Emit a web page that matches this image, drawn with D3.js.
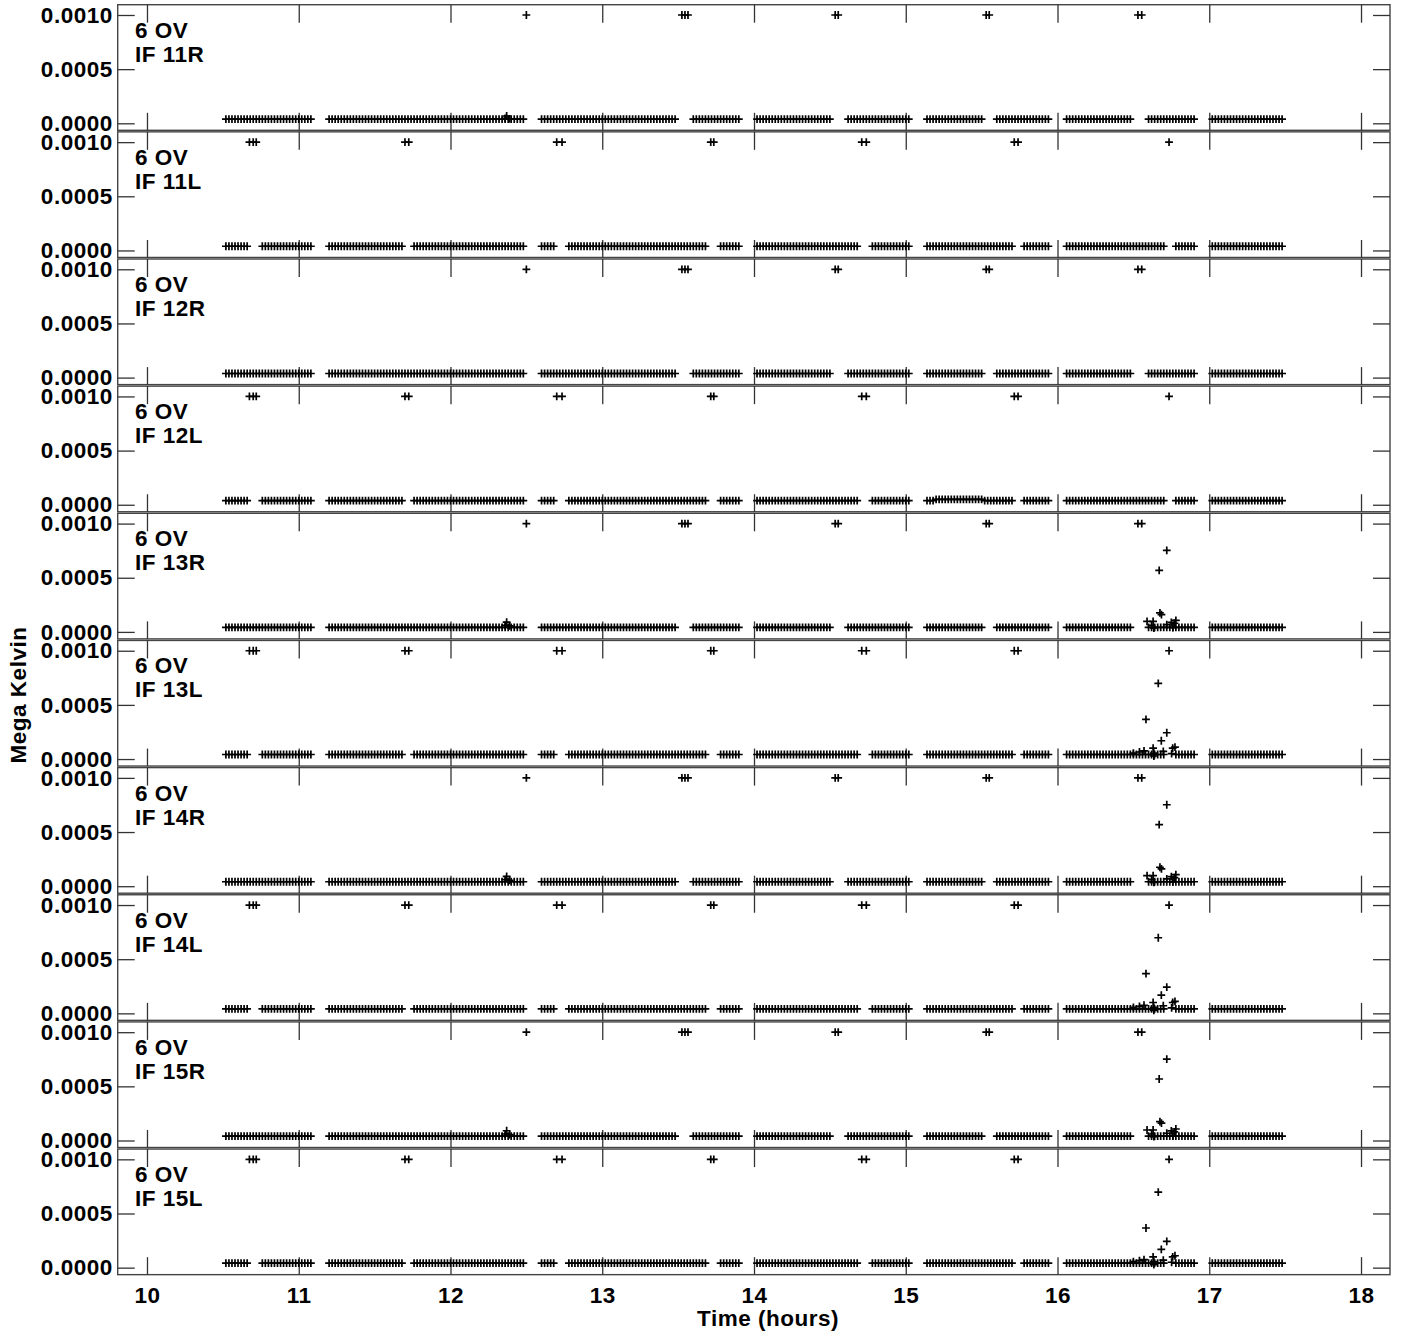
<!DOCTYPE html>
<html>
<head>
<meta charset="utf-8">
<script src="https://cdn.jsdelivr.net/npm/d3@7/dist/d3.min.js"></script>
<style>
  body { margin: 0; background: #fff; }
  text { font-family: "Liberation Sans", Arial, sans-serif; font-weight: bold; fill: #000; }
</style>
</head>
<body>
<div id="container"></div>
<script>
// panel names, top to bottom
var panelNames = ["IF 11R", "IF 11L", "IF 12R", "IF 12L", "IF 13R", "IF 13L", "IF 14R", "IF 14L", "IF 15R", "IF 15L"];
var sourceName = "6 OV";
var hourTicks = [10, 11, 12, 13, 14, 15, 16, 17, 18];
var valueTicks = [0, 0.0005, 0.0010];

// integration times (hours) shared by all IFs
var sampleTimes = [
  10.52,10.54,10.56,10.58,10.60,10.62,10.64,10.66,10.68,10.70,10.72,10.74,10.76,10.78,10.80,10.82,10.84,10.86,10.88,10.90,10.92,10.94,10.96,10.98,11.00,11.02,11.04,11.06,11.08,
  11.20,11.22,11.24,11.26,11.28,11.30,11.32,11.34,11.36,11.38,11.40,11.42,11.44,11.46,11.48,11.50,11.52,11.54,11.56,11.58,11.60,11.62,11.64,11.66,11.68,11.70,11.72,11.74,11.76,11.78,11.80,11.82,11.84,11.86,11.88,11.90,11.92,11.94,11.96,11.98,
  12.00,12.02,12.04,12.06,12.08,12.10,12.12,12.14,12.16,12.18,12.20,12.22,12.24,12.26,12.28,12.30,12.32,12.34,12.36,12.38,12.40,12.42,12.44,12.46,12.48,
  12.60,12.62,12.64,12.66,12.68,12.70,12.72,12.74,12.76,12.78,12.80,12.82,12.84,12.86,12.88,12.90,12.92,12.94,12.96,12.98,13.00,13.02,13.04,13.06,13.08,13.10,13.12,13.14,13.16,13.18,13.20,13.22,13.24,13.26,13.28,13.30,13.32,13.34,13.36,13.38,13.40,13.42,13.44,13.46,13.48,
  13.50,13.52,13.54,13.56,13.58,13.60,13.62,13.64,13.66,13.68,13.70,13.72,13.74,13.76,13.78,13.80,13.82,13.84,13.86,13.88,13.90,
  14.02,14.04,14.06,14.08,14.10,14.12,14.14,14.16,14.18,14.20,14.22,14.24,14.26,14.28,14.30,14.32,14.34,14.36,14.38,14.40,14.42,14.44,14.46,14.48,14.50,14.52,14.54,14.56,14.58,14.60,14.62,14.64,14.66,14.68,14.70,14.72,14.74,14.76,14.78,14.80,14.82,14.84,14.86,14.88,14.90,14.92,14.94,14.96,14.98,15.00,15.02,
  15.14,15.16,15.18,15.20,15.22,15.24,15.26,15.28,15.30,15.32,15.34,15.36,15.38,15.40,15.42,15.44,15.46,15.48,15.50,15.52,15.54,15.56,15.58,15.60,15.62,15.64,15.66,15.68,15.70,15.72,15.74,15.76,15.78,15.80,15.82,15.84,15.86,15.88,15.90,15.92,15.94,
  16.06,16.08,16.10,16.12,16.14,16.16,16.18,16.20,16.22,16.24,16.26,16.28,16.30,16.32,16.34,16.36,16.38,16.40,16.42,16.44,16.46,16.48,16.50,16.52,16.54,16.56,16.58,16.60,16.62,16.64,16.66,16.68,16.70,16.72,16.74,16.76,16.78,16.80,16.82,16.84,16.86,16.88,16.90,
  17.02,17.04,17.06,17.08,17.10,17.12,17.14,17.16,17.18,17.20,17.22,17.24,17.26,17.28,17.30,17.32,17.34,17.36,17.38,17.40,17.42,17.44,17.46,17.48
];

// stretches where one polarization has no baseline points
var gapsR = [[13.49, 13.59], [14.51, 14.61], [15.51, 15.59], [16.49, 16.59]];
var gapsL = [[10.67, 10.75], [11.69, 11.75], [12.69, 12.77], [13.69, 13.77], [14.69, 14.77], [15.70, 15.78], [16.71, 16.78]];

// points pinned at the top of the range
var topR = [12.50, 13.525, 13.545, 13.565, 14.535, 14.555, 15.53, 15.55, 16.53, 16.555];
var topL = [10.675, 10.70, 10.72, 11.70, 11.725, 12.70, 12.735, 13.715, 13.735, 14.71, 14.74, 15.715, 15.74, 16.735];
var topValue = 0.0010;

// baseline level per panel (Mega Kelvin)
var baseLevel = [0.000038, 0.000039, 0.000038, 0.000039, 0.000041, 0.000042, 0.000041, 0.000042, 0.000041, 0.000042];

// slightly raised stretch in IF 12L
var raised12L = [[15.20, 15.50, 0.000050]];

// small bump near 12.37 h in the R IFs
var bumpR = [[12.36, 0.000060], [12.37, 0.000090], [12.39, 0.000055]];
var bumpPanels = [0, 4, 6, 8];

// flare near 16.7 h in IF 13-15
var spikeR = [[16.59, 0.000097], [16.62, 0.000060], [16.63, 0.000097], [16.635, 0.000036], [16.67, 0.000568],
              [16.675, 0.000175], [16.685, 0.000160], [16.72, 0.000752], [16.72, 0.000067], [16.75, 0.000088],
              [16.76, 0.000040], [16.77, 0.000080], [16.78, 0.000106]];
var spikeL = [[16.50, 0.000055], [16.54, 0.000065], [16.57, 0.000075], [16.583, 0.000366], [16.63, 0.000100],
              [16.635, 0.000055], [16.635, 0.000028], [16.664, 0.000698], [16.684, 0.000169], [16.697, 0.000070],
              [16.72, 0.000243], [16.752, 0.000050], [16.759, 0.000100], [16.774, 0.000110]];
var spikePanels = [4, 5, 6, 7, 8, 9];

var W = 1401, H = 1334,
    left = 117.7, right = 1390,
    top0 = 4.7, pitch = 127.15, panelH = 125.6,
    fontSize = "22.5px", spacing = "0.5px";

var svg = d3.select("div#container").append("svg").attr("width", W).attr("height", H);

var xScale = d3.scaleLinear().domain([9.807, 18.191]).range([left, right]);
var yScale = d3.scaleLinear().domain([-0.0000646, 0.001095]).range([panelH, 0]);

var plus = "M-3.9,0H3.9M0,-3.9V3.9";

function inGap(t, gaps) {
  return gaps.some(function(g) { return t > g[0] && t < g[1]; });
}

function panelPoints(i) {
  var isR = panelNames[i].slice(-1) === "R";
  var pts = [];
  sampleTimes.forEach(function(t) {
    if (inGap(t, isR ? gapsR : gapsL)) return;
    var v = baseLevel[i];
    if (i === 3) raised12L.forEach(function(r) { if (t >= r[0] && t <= r[1]) v = r[2]; });
    pts.push([t, v]);
  });
  (isR ? topR : topL).forEach(function(t) { pts.push([t, topValue]); });
  if (isR && bumpPanels.indexOf(i) >= 0) {
    bumpR.forEach(function(b) { pts.push([b[0], i === 0 ? b[1] * 0.75 : b[1]]); });
  }
  if (spikePanels.indexOf(i) >= 0) {
    (isR ? spikeR : spikeL).forEach(function(s) { pts.push(s); });
  }
  return pts;
}

panelNames.forEach(function(name, i) {
  var g = svg.append("g").attr("transform", "translate(0," + (top0 + i * pitch) + ")");

  // frame
  g.append("rect")
   .attr("x", left).attr("y", 0)
   .attr("width", right - left).attr("height", panelH)
   .attr("fill", "none").attr("stroke", "#444").style("stroke-width", 1.4);

  // ticks
  var yLeft = d3.axisLeft(yScale).tickValues(valueTicks).tickSize(-17).tickPadding(5)
                .tickFormat(d3.format(".4f"));
  var yRight = d3.axisRight(yScale).tickValues(valueTicks).tickSize(-17).tickFormat("");
  var xTop = d3.axisTop(xScale).tickValues(hourTicks).tickSize(-18).tickFormat("");
  var xBottom = d3.axisBottom(xScale).tickValues(hourTicks).tickSize(-17.5).tickPadding(12.5)
                  .tickFormat(i === panelNames.length - 1 ? d3.format("d") : "");

  g.append("g").attr("transform", "translate(" + left + ",0)").call(yLeft);
  g.append("g").attr("transform", "translate(" + right + ",0)").call(yRight);
  g.append("g").call(xTop);
  g.append("g").attr("transform", "translate(0," + panelH + ")").call(xBottom);

  g.selectAll(".domain").remove();
  g.selectAll(".tick line").attr("stroke", "#333").style("stroke-width", 1.3);
  g.selectAll(".tick text")
   .style("font-size", fontSize).style("letter-spacing", spacing)
   .style("font-family", "'Liberation Sans', Arial, sans-serif").style("font-weight", "bold")
   .attr("fill", "#000");

  // panel labels
  g.append("text").attr("x", 135).attr("y", 33).text(sourceName)
   .style("font-size", fontSize).style("letter-spacing", spacing);
  g.append("text").attr("x", 135).attr("y", 57).text(name)
   .style("font-size", fontSize).style("letter-spacing", spacing);

  // data
  g.append("g").selectAll("path")
   .data(panelPoints(i))
   .enter().append("path")
   .attr("d", plus)
   .attr("transform", function(d) { return "translate(" + xScale(d[0]) + "," + yScale(d[1]) + ")"; })
   .attr("fill", "none")
   .attr("stroke", "#000")
   .style("stroke-width", 1.7);
});

// axis titles
svg.append("text")
   .attr("x", 768).attr("y", 1326)
   .attr("text-anchor", "middle")
   .style("font-size", fontSize).style("letter-spacing", spacing)
   .text("Time (hours)");

svg.append("text")
   .attr("transform", "translate(26,695) rotate(-90)")
   .attr("text-anchor", "middle")
   .style("font-size", fontSize).style("letter-spacing", spacing)
   .text("Mega Kelvin");
</script>
</body>
</html>
